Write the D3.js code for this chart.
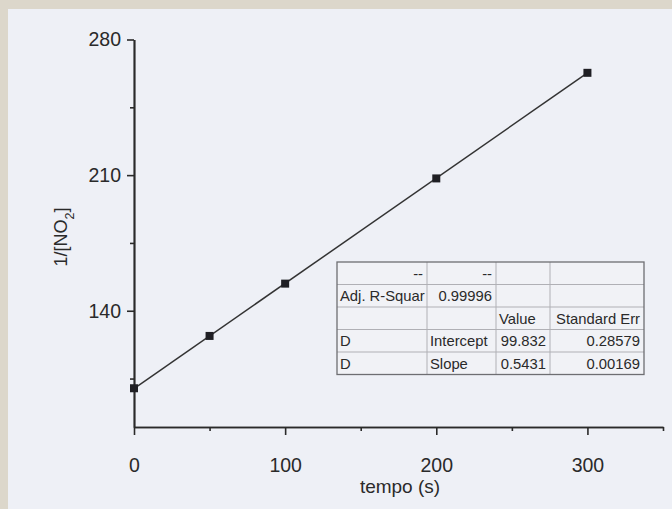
<!DOCTYPE html>
<html>
<head>
<meta charset="utf-8">
<script src="https://cdn.jsdelivr.net/npm/d3@7"></script>
<style>
  html, body { margin: 0; padding: 0; background: #ddd8cc; }
  svg { display: block; }
  text { font-family: "Liberation Sans", Arial, sans-serif; fill: #2a2a2a; }
</style>
</head>
<body>
<script>
// ---- data ----
const tempo = [0, 50, 100, 200, 300];
const invNO2 = [100.0, 127.0, 154.0, 208.3, 262.8];
const fitX = [0, 300];
const intercept = 99.832;
const slope = 0.5431;
const yMajorTicks = [140, 210, 280];
const yMinorTicks = [105, 175, 245];
const xMajorTicks = [0, 100, 200, 300];
const xMinorTicks = [50, 150, 250, 350];
const tableRows = [
  ["--", "--", "", ""],
  ["Adj. R-Squar", "0.99996", "", ""],
  ["", "", "Value", "Standard Err"],
  ["D", "Intercept", "99.832", "0.28579"],
  ["D", "Slope", "0.5431", "0.00169"]
];

const W = 672, H = 509;
const svg = d3.select("body").append("svg").attr("width", W).attr("height", H);

// page background (scan look)
svg.append("rect").attr("x", 0).attr("y", 0).attr("width", W).attr("height", H).attr("fill", "#dcd7cb");
svg.append("rect").attr("x", 8).attr("y", 9).attr("width", W - 8).attr("height", H - 9).attr("fill", "#eef0f6");

const x = d3.scaleLinear().domain([0, 350]).range([134, 663]);
const y = d3.scaleLinear().domain([80, 280]).range([427, 39.5]);

const axisColor = "#2a2a2a";
const font = "'Liberation Sans', Arial, sans-serif";

// X axis
const gx = svg.append("g").attr("transform", `translate(0,${y(80)})`);
gx.call(d3.axisBottom(x).tickValues(xMajorTicks).tickSize(8).tickSizeOuter(0).tickFormat(d3.format("d")).tickPadding(23));
gx.append("g").call(d3.axisBottom(x).tickValues(xMinorTicks).tickSize(4).tickSizeOuter(0).tickFormat(""));
gx.selectAll(".domain").attr("stroke", axisColor).attr("stroke-width", 1.7);
gx.selectAll(".tick line").attr("stroke", axisColor).attr("stroke-width", 1.6);
gx.selectAll(".tick text").style("font-family", font).style("font-size", "19.5px").attr("fill", "#262626");

// Y axis
const gy = svg.append("g").attr("transform", `translate(${x(0)},0)`);
gy.call(d3.axisLeft(y).tickValues(yMajorTicks).tickSize(7).tickSizeOuter(0).tickFormat(d3.format("d")).tickPadding(6));
gy.append("g").call(d3.axisLeft(y).tickValues(yMinorTicks).tickSize(4).tickSizeOuter(0).tickFormat(""));
gy.selectAll(".domain").attr("stroke", axisColor).attr("stroke-width", 1.7);
gy.selectAll(".tick line").attr("stroke", axisColor).attr("stroke-width", 1.6);
gy.selectAll(".tick text").style("font-family", font).style("font-size", "19.5px").attr("fill", "#262626");

// Axis titles
svg.append("text").attr("x", 400).attr("y", 493).attr("text-anchor", "middle")
  .style("font-size", "19px").text("tempo (s)");
const yt = svg.append("text").attr("transform", "translate(67,237) rotate(-90)")
  .attr("text-anchor", "middle").style("font-size", "18px");
yt.append("tspan").text("1/[NO");
yt.append("tspan").attr("baseline-shift", "sub").style("font-size", "12.5px").text("2");
yt.append("tspan").text("]");

// Fit line
const line = d3.line().x(d => x(d)).y(d => y(intercept + slope * d));
svg.append("path").datum(fitX).attr("d", line).attr("fill", "none")
  .attr("stroke", "#333").attr("stroke-width", 1.5);

// Data points
const sq = 8;
svg.selectAll("rect.pt").data(tempo).enter().append("rect").attr("class", "pt")
  .attr("x", (d) => x(d) - sq / 2).attr("y", (d, i) => y(invNO2[i]) - sq / 2)
  .attr("width", sq).attr("height", sq).attr("fill", "#1f1f24");

// Table
const colX = [337, 427, 496, 550, 644];
const rowY0 = 262, rowH = 22.5;
const tbl = svg.append("g");
tbl.append("rect").attr("x", colX[0]).attr("y", rowY0).attr("width", colX[4] - colX[0])
  .attr("height", rowH * 5).attr("fill", "#f1f2f6");
for (let r = 1; r < 5; r++) {
  tbl.append("line").attr("x1", colX[0]).attr("x2", colX[4])
    .attr("y1", rowY0 + r * rowH).attr("y2", rowY0 + r * rowH)
    .attr("stroke", "#b0b0b5").attr("stroke-width", 1);
}
for (let c = 1; c < 4; c++) {
  tbl.append("line").attr("x1", colX[c]).attr("x2", colX[c])
    .attr("y1", rowY0).attr("y2", rowY0 + 5 * rowH)
    .attr("stroke", "#b0b0b5").attr("stroke-width", 1);
}
tbl.append("rect").attr("x", colX[0]).attr("y", rowY0).attr("width", colX[4] - colX[0])
  .attr("height", rowH * 5).attr("fill", "none").attr("stroke", "#6e6e72").attr("stroke-width", 1.3);

// alignment per cell: 'l' or 'r'
const align = [
  ["r", "r", "l", "l"],
  ["l", "r", "l", "l"],
  ["l", "l", "l", "r"],
  ["l", "l", "r", "r"],
  ["l", "l", "r", "r"]
];
tableRows.forEach((row, r) => {
  row.forEach((txt, c) => {
    if (!txt) return;
    const a = align[r][c];
    const tx = a === "l" ? colX[c] + 3 : colX[c + 1] - 4;
    tbl.append("text").attr("x", tx).attr("y", rowY0 + r * rowH + rowH / 2 + 5.5)
      .attr("text-anchor", a === "l" ? "start" : "end")
      .style("font-size", "14.8px").attr("fill", "#262626").text(txt);
  });
});
</script>
</body>
</html>
